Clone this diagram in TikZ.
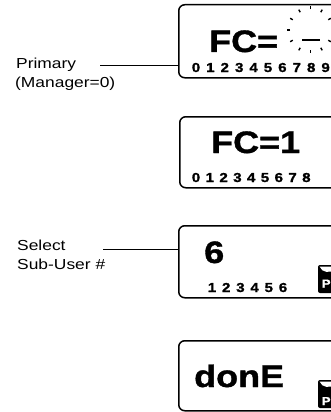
\documentclass[tikz,border=0pt]{standalone}
\usepackage{fontspec}
\setmainfont{Liberation Sans}[FakeStretch=1.2]
\newfontfamily\lcd{Liberation Sans}[FakeStretch=1.16,FakeBold=1.2]
\begin{document}
\begin{tikzpicture}[x=1pt,y=-1pt,
  lcdbox/.style={draw, line width=1.5pt, rounded corners=6pt, anchor=north west,
    minimum width=170pt, inner sep=0pt},
  lbl/.style={anchor=base west, inner sep=0pt, font=\fontsize{14.5}{18}\selectfont},
  big/.style={anchor=base west, inner sep=0pt, font=\lcd\bfseries\fontsize{31}{31}\selectfont},
  dig/.style={anchor=base, inner sep=0pt, font=\lcd\bfseries\fontsize{13}{13}\selectfont},
  conn/.style={draw, line width=1pt},
  picon/.style={fill=black, rounded corners=2pt},
  pletter/.style={anchor=base west, inner sep=0pt, text=white, font=\lcd\bfseries\fontsize{11.5}{11.5}\selectfont}]
\useasboundingbox (0,0) rectangle (331,412);
\clip (0,0) rectangle (331,412);

% boxes
\node[lcdbox, minimum height=73pt] (b1) at (178,4) {};
\node[lcdbox, minimum height=71pt] (b2) at (179,116) {};
\node[lcdbox, minimum height=72pt] (b3) at (178,225) {};
\node[lcdbox, minimum height=70pt] (b4) at (178,340) {};

% box 1
\node[big] (fc1) at (209,52) {FC=};
\foreach \i in {0,...,9} \node[dig] (d1\i) at ({196+14.4*\i},72) {\i};
\foreach \a in {0,30,...,330} \draw[line width=1.4pt] (310.5,30) ++(\a:20.5) -- ++(\a:3);
\draw[line width=2.6pt] (302,40) -- (320,40);

% box 2
\node[big] (fc2) at (211,153) {FC=1};
\foreach \i in {0,...,8} \node[dig] (d2\i) at ({196+13.8*\i},182) {\i};

% box 3
\node[big] (six) at (204,263) {6};
\foreach \i in {1,...,6} \node[dig] (d3\i) at ({212+14.2*(\i-1)},292) {\i};
\fill[picon] (318,265) rectangle (335,293);
\fill[white] (319.6,266.6) .. controls (322,273) and (330,273) .. (335,270) -- (335,266.6) -- cycle;
\node[pletter] (p3) at (321.5,287.5) {P};

% box 4
\node[big] (done) at (194,387) {donE};
\fill[picon] (318,380) rectangle (335,408);
\fill[white] (319.6,381.6) .. controls (322,388) and (330,388) .. (335,385) -- (335,381.6) -- cycle;
\node[pletter] (p4) at (321.5,405) {P};

% labels
\node[lbl] (prim) at (16,68) {Primary};
\node[lbl] (mgr) at (15,87) {(Manager=0)};
\node[lbl] (sel) at (17,250) {Select};
\node[lbl] (sub) at (17,269) {Sub-User \#};

\coordinate (c1) at (100,66);
\coordinate (c2) at (103,249);
\draw[conn] (c1) -- (c1 -| b1.west);
\draw[conn] (c2) -- (c2 -| b3.west);
\end{tikzpicture}
\end{document}
